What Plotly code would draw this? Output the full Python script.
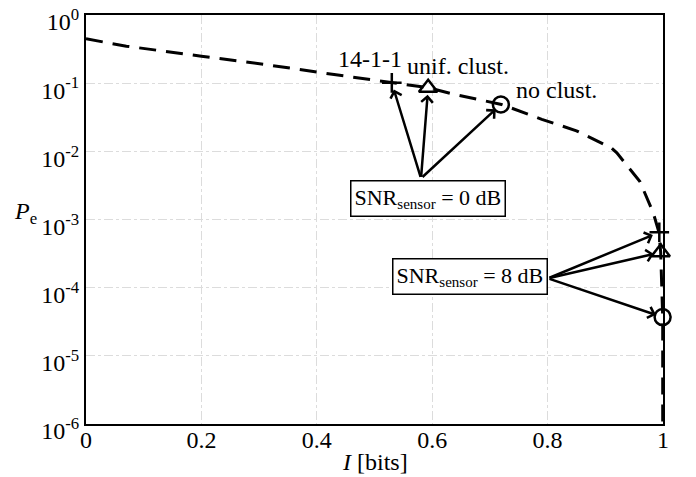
import numpy as np
import plotly.graph_objects as go

# ---- data ----
curve_I = [0.0, 0.07, 0.2, 0.31, 0.43, 0.53, 0.593, 0.64, 0.72, 0.79, 0.85, 0.91,
           0.92, 0.96, 0.983, 0.993, 0.996, 0.9995, 0.9995]
curve_Pe = [0.447, 0.349, 0.249, 0.188, 0.134, 0.101, 0.0857, 0.068, 0.0488, 0.0295,
            0.020, 0.0113, 0.0095, 0.0036, 0.00126, 6.5e-4, 3.3e-4, 3.7e-5, 1e-6]

schemes = ["14-1-1", "unif. clust.", "no clust."]
snr0_I = [0.53, 0.593, 0.719]
snr0_Pe = [0.101, 0.0857, 0.0487]
snr8_I = [0.9936, 0.996, 0.9993]
snr8_Pe = [6.5e-4, 3.3e-4, 3.7e-5]

marker_symbols = ["cross-thin-open", "triangle-up-open", "circle-open"]
marker_sizes = [14, 16, 16]

y_tickvals = [1e-6, 1e-5, 1e-4, 1e-3, 1e-2, 1e-1, 1e0]
y_ticktext = ["10<sup>-6</sup>", "10<sup>-5</sup>", "10<sup>-4</sup>", "10<sup>-3</sup>",
              "10<sup>-2</sup>", "10<sup>-1</sup>", "10<sup>0</sup>"]
x_tickvals = [0, 0.2, 0.4, 0.6, 0.8, 1]
x_ticktext = ["0", "0.2", "0.4", "0.6", "0.8", "1"]

FONT = "Liberation Serif, Times New Roman, serif"
FS = 24

fig = go.Figure()
fig.add_trace(go.Scatter(x=curve_I, y=curve_Pe, mode="lines",
                         line=dict(color="black", width=3, dash="17px,10px"),
                         showlegend=False, hoverinfo="skip", cliponaxis=False))
for xs, ys in [(snr0_I, snr0_Pe), (snr8_I, snr8_Pe)]:
    for i in range(3):
        fig.add_trace(go.Scatter(x=[xs[i]], y=[ys[i]], mode="markers",
                                 marker=dict(symbol=marker_symbols[i], size=marker_sizes[i],
                                             color="black",
                                             line=dict(color="black", width=2.5)),
                                 showlegend=False, cliponaxis=False))

annotations = []
# scheme labels (pixel offsets from the 0 dB markers)
label_px = [(-22, 24), (30, 22), (56, 14)]
for i in range(3):
    annotations.append(dict(x=snr0_I[i], y=np.log10(snr0_Pe[i]), xref="x", yref="y",
                            text=schemes[i], showarrow=False,
                            xanchor="center", yanchor="middle",
                            xshift=label_px[i][0], yshift=label_px[i][1],
                            font=dict(family=FONT, size=FS, color="black")))

# arrows
tail0 = (0.5806, -2.397)
tail8 = (0.8007, -3.864)
for xs, ys, tail in [(snr0_I, snr0_Pe, tail0), (snr8_I, snr8_Pe, tail8)]:
    for i in range(3):
        annotations.append(dict(x=xs[i], y=np.log10(ys[i]), xref="x", yref="y",
                                ax=tail[0], ay=tail[1], axref="x", ayref="y",
                                text="", showarrow=True, arrowhead=4, arrowsize=0.9,
                                arrowwidth=2.5, arrowcolor="black", standoff=7))

sub = '<sub><span style="font-size:15px">sensor</span></sub>'
# boxes
annotations.append(dict(x=tail0[0], y=tail0[1], xref="x", yref="y",
                        text="SNR" + sub + " = 0 dB", showarrow=False,
                        yanchor="top", xanchor="center", xshift=7, yshift=-2,
                        bordercolor="black", borderwidth=1.5, borderpad=3, bgcolor="white",
                        font=dict(family=FONT, size=22, color="black")))
annotations.append(dict(x=tail8[0], y=tail8[1], xref="x", yref="y",
                        text="SNR" + sub + " = 8 dB", showarrow=False,
                        yanchor="middle", xanchor="right", yshift=2,
                        bordercolor="black", borderwidth=1.5, borderpad=3, bgcolor="white",
                        font=dict(family=FONT, size=22, color="black")))

# axis titles
annotations.append(dict(x=-0.104, y=0.515, xref="paper", yref="paper",
                        xanchor="center", yanchor="middle",
                        text="<i>P</i><sub>e</sub>", showarrow=False,
                        font=dict(family=FONT, size=FS, color="black")))
annotations.append(dict(x=0.501, y=-0.093, xref="paper", yref="paper",
                        xanchor="center", yanchor="middle",
                        text="<i>I</i> [bits]", showarrow=False,
                        font=dict(family=FONT, size=FS, color="black")))

axis_common = dict(showline=True, linecolor="black", linewidth=2, mirror=True,
                   showgrid=True, gridcolor="#dcdcdc", griddash="dashdot", gridwidth=1,
                   zeroline=False, ticks="", automargin=False, ticklabeloverflow="allow",
                   tickfont=dict(family=FONT, size=FS, color="black"))

fig.update_layout(
    width=696, height=477,
    margin=dict(l=86, r=33, t=15, b=53, autoexpand=False),
    paper_bgcolor="white", plot_bgcolor="white",
    font=dict(family=FONT, size=FS, color="black"),
    annotations=annotations,
    xaxis=dict(range=[0, 1], tickvals=x_tickvals, ticktext=x_ticktext,
               ticklabelstandoff=-7, **axis_common),
    yaxis=dict(type="log", range=[-6, 0], tickvals=y_tickvals, ticktext=y_ticktext,
               ticklabelshift=7, **axis_common),
)

# remove the default 8px page margin so the figure fills the window exactly
fig.write_html("out.html", config={"displayModeBar": False},
               post_script="document.body.style.margin='0';document.body.style.overflow='hidden';")
